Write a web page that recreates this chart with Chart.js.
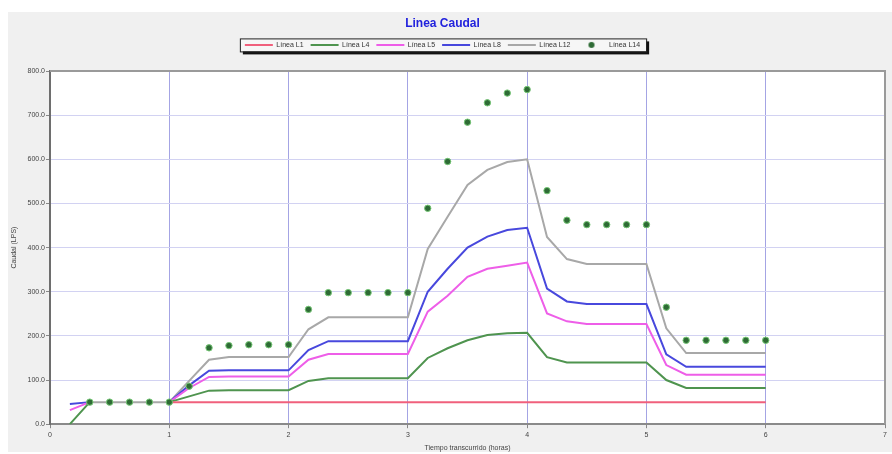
<!DOCTYPE html>
<html>
<head>
<meta charset="utf-8">
<script src="https://cdn.jsdelivr.net/npm/chart.js@4.4.1/dist/chart.umd.min.js"></script>
<style>
html,body{margin:0;padding:0;background:#fff;}
#wrap{width:892px;height:454px;}
</style>
</head>
<body>
<div id="wrap"><canvas id="c" width="892" height="454"></canvas></div>
<script>
// elapsed time (minutes)
const minutes = [10,20,30,40,50,60,70,80,90,100,110,120,130,140,150,160,170,180,190,200,210,220,230,240,250,260,270,280,290,300,310,320,330,340,350,360];
const xTickLabels = ['0','1','2','3','4','5','6','7'];
const seriesNames = ['Línea L1','Línea L4','Línea L5','Línea L8','Línea L12','Línea L14'];

const lineL1  = [null,null,null,null,null,50,50,50,50,50,50,50,50,50,50,50,50,50,50,50,50,50,50,50,50,50,50,50,50,50,50,50,50,50,50,50];
const lineL4  = [0,50,null,null,null,50,63,76,77,77,77,77,98,104,104,104,104,104,150,172,190,202,206,207,152,140,140,140,140,140,100,82,82,82,82,82];
const lineL5  = [32,50,null,null,null,50,82,107,108,108,108,108,146,159,159,159,159,159,255,291,334,352,359,366,251,233,227,227,227,227,134,112,112,112,112,112];
const lineL8  = [46,50,null,null,null,50,88,121,122,122,122,122,168,188,188,188,188,188,300,352,400,425,440,445,307,278,272,272,272,272,158,130,130,130,130,130];
const lineL12 = [null,50,50,50,50,50,98,146,152,152,152,152,215,242,242,242,242,242,397,470,542,576,594,600,424,374,363,363,363,363,217,161,161,161,161,161];
const lineL14 = [null,50,50,50,50,50,86,173,178,180,180,180,260,298,298,298,298,298,489,595,684,728,750,758,529,462,452,452,452,452,265,190,190,190,190,190];

const colors = ['#f0607c','#4f944f','#ee5ee8','#4848dd','#a8a8a8','#2e6b35'];
const FONT = "'Liberation Sans', Arial, sans-serif";

function pts(arr){ return minutes.map((m,i)=>({x:m/60, y:arr[i]})); }

function lineDs(label, arr, color, order){
  return {label, data: pts(arr), xAxisID: 'x', yAxisID: 'y', borderColor: color, backgroundColor: color, borderWidth: 2,
    pointRadius: 0, pointHoverRadius: 0, pointStyle: 'line', tension: 0, spanGaps: false, order};
}

// legend swatch for the point series
const dotCanvas = document.createElement('canvas');
dotCanvas.width = 28; dotCanvas.height = 8;
(function(){ const g = dotCanvas.getContext('2d'); g.fillStyle = '#2e6b35'; g.beginPath(); g.arc(14,4,3,0,Math.PI*2); g.fill(); })();

const panelPlugin = {
  id: 'panel',
  beforeDraw(chart){
    const ctx = chart.ctx, a = chart.chartArea;
    ctx.save();
    ctx.fillStyle = '#ffffff'; ctx.fillRect(0,0,chart.width,chart.height);
    ctx.fillStyle = '#f0f0f0'; ctx.fillRect(8,12,chart.width-8,chart.height-14);
    ctx.fillStyle = '#ffffff'; ctx.fillRect(a.left,a.top,a.right-a.left,a.bottom-a.top);
    const hb = chart.legend && chart.legend.legendHitBoxes;
    if (hb && hb.length){
      let l = Infinity, r = -Infinity, t = Infinity, b = -Infinity;
      hb.forEach(h=>{ l=Math.min(l,h.left); r=Math.max(r,h.left+h.width); t=Math.min(t,h.top); b=Math.max(b,h.top+h.height); });
      l -= 5; r += 6; t -= 3; b += 3;
      ctx.fillStyle = '#111'; ctx.fillRect(l+3,t+3,r-l,b-t);
      ctx.fillStyle = '#f6f6f6'; ctx.fillRect(l,t,r-l,b-t);
      ctx.strokeStyle = '#222'; ctx.lineWidth = 1; ctx.strokeRect(l+0.5,t+0.5,r-l,b-t);
    }
    ctx.restore();
  },
  beforeDatasetsDraw(chart){
    const ctx = chart.ctx, a = chart.chartArea;
    ctx.save();
    ctx.strokeStyle = '#9a9a9a'; ctx.lineWidth = 2;
    ctx.beginPath(); ctx.moveTo(a.left,a.top); ctx.lineTo(a.right,a.top); ctx.lineTo(a.right,a.bottom); ctx.stroke();
    ctx.restore();
  }
};

new Chart(document.getElementById('c'), {
  type: 'line',
  data: {
    datasets: [
      lineDs(seriesNames[0], lineL1, colors[0], 1),
      lineDs(seriesNames[1], lineL4, colors[1], 2),
      lineDs(seriesNames[2], lineL5, colors[2], 3),
      lineDs(seriesNames[3], lineL8, colors[3], 4),
      lineDs(seriesNames[4], lineL12, colors[4], 5),
      {label: seriesNames[5], data: pts(lineL14), xAxisID: 'x', yAxisID: 'y', showLine: false, pointStyle: 'circle', pointRadius: 3.2,
       pointHoverRadius: 3.2, backgroundColor: colors[5], borderColor: '#76c776', borderWidth: 1, order: 0}
    ]
  },
  options: {
    responsive: false,
    devicePixelRatio: 1,
    animation: false,
    layout: {padding: {left: 0, right: 7, top: 0, bottom: 0}},
    plugins: {
      tooltip: {enabled: false},
      title: {display: true, text: 'Linea Caudal', color: '#2222dd',
        font: {family: FONT, size: 12, weight: 'bold'}, padding: {top: 16, bottom: 4}},
      legend: {
        display: true, position: 'top', align: 'center',
        labels: {
          usePointStyle: true, pointStyleWidth: 28, padding: 7, color: '#333',
          font: {family: FONT, size: 7},
          sort: (a, b) => a.datasetIndex - b.datasetIndex,
          generateLabels(chart){
            const items = Chart.defaults.plugins.legend.labels.generateLabels(chart);
            items.forEach(it=>{ if (it.datasetIndex === 5) { it.pointStyle = dotCanvas; } });
            return items;
          }
        }
      }
    },
    scales: {
      x: {
        type: 'linear', position: 'bottom', min: 0, max: 7,
        ticks: {stepSize: 1, color: '#444', font: {family: FONT, size: 7}, padding: 3,
          callback: v => (Number.isInteger(v) ? xTickLabels[v] : '')},
        grid: {color: '#a4a4e4', lineWidth: 1, tickLength: 4, tickColor: '#888'},
        border: {color: '#8a8a8a', width: 2},
        title: {display: true, text: 'Tiempo transcurrido (horas)', color: '#444',
          font: {family: FONT, size: 7}, padding: {top: 1, bottom: 2}}
      },
      y: {
        position: 'left', min: 0, max: 800,
        ticks: {stepSize: 100, color: '#444', font: {family: FONT, size: 7}, padding: 1,
          callback: v => Number(v).toFixed(1)},
        grid: {color: '#d2d2f2', lineWidth: 1, tickLength: 4, tickColor: '#888'},
        border: {color: '#6e6e6e', width: 2},
        title: {display: true, text: 'Caudal (LPS)', color: '#444',
          font: {family: FONT, size: 7}, padding: {top: 10, bottom: 0}},
        afterFit(s){ s.width = 50; }
      },
      spacer: {type: 'linear', axis: 'x', position: 'top', display: true, grid: {display: false}, border: {display: false},
        ticks: {display: false}, afterFit(s){ s.height = 12.6; }}
    }
  },
  plugins: [panelPlugin]
});
</script>
</body>
</html>
